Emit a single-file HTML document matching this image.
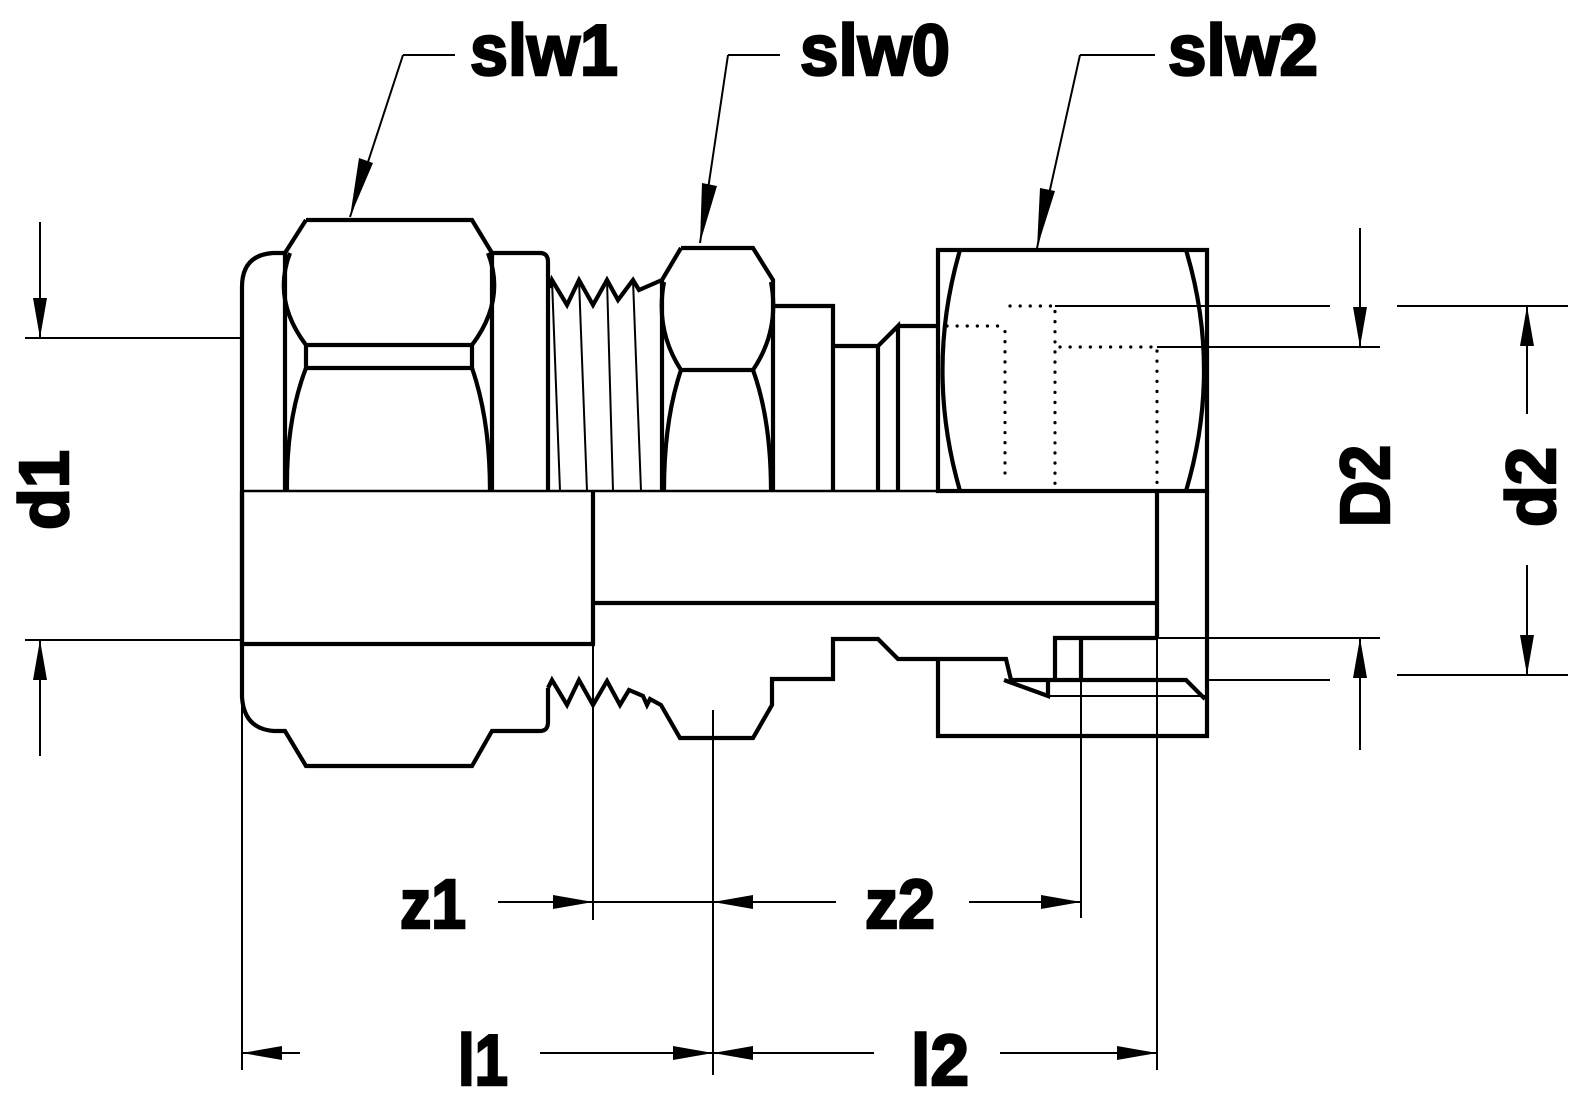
<!DOCTYPE html>
<html><head><meta charset="utf-8"><style>html,body{margin:0;padding:0;background:#fff}svg{display:block}</style></head>
<body>
<svg width="1580" height="1113" viewBox="0 0 1580 1113" xmlns="http://www.w3.org/2000/svg">
<defs>
<marker id="a" viewBox="0 0 40 14" refX="40" refY="7" markerWidth="40" markerHeight="14" markerUnits="userSpaceOnUse" orient="auto"><path d="M0,0 L40,7 L0,14 z" fill="#000"/></marker>
</defs>
<g fill="none" stroke="#000" stroke-width="4.2" stroke-linejoin="miter">
<!-- nut 1 -->
<path d="M306,220 L472,220 L492,253 L492,491 M306,220 L285,253 L285,491"/>
<path d="M290,253 Q272,300 306,345 L472,345 Q506,300 488,253"/>
<path d="M306,345 L306,368 L472,368 L472,345"/>
<path d="M306,368 Q286,420 287,491 M472,368 Q490,420 490,491"/>
<path d="M285,253 L273,253 Q242,255 242,287 L242,697 Q244,729 274,731 L285,731 L306,766 L472,766 L492,731 L540,731 Q548,731 548,722 L548,688"/>
<path d="M492,253 L540,253 Q548,253 548,262 L548,491"/>
<path d="M550,288 L552,280 L567,305 L579,280 L593,305 L607,280 L618,300 L633,280 L639,290 L662,280"/>
<path d="M548,688 L552,680 L567,705 L579,680 L593,705 L607,681 L620,705 L629,690 L643,696 L647,705 L650,699 L661,705 L680,738 L753,738 L772,705 L772,679 L833,679 L833,639 L878,639 L898,659 L1006,659 L1011,680 L1186,680 L1205,699"/>
<!-- hex 0 -->
<path d="M662,280 L662,491 M681,248 L753,248 L773,280 L773,491 M681,248 L662,280"/>
<path d="M664,282 Q655,330 681,370 L753,370 Q780,330 771,282"/>
<path d="M681,370 Q664,420 664,491 M753,370 Q771,420 771,491"/>
<path d="M773,306 L833,306 L833,491 M833,346 L878,346 L878,491 M878,346 L898,326 L898,491 M898,326 L938,326"/>
<!-- right body -->
<rect x="938" y="250" width="269" height="241"/>
<path d="M960,250 Q925,370 960,491 M1186,250 Q1222,370 1186,491"/>
<path d="M938,659 L938,736 L1207,736 L1207,491"/>
<path d="M1004,680 L1048,696 L1048,680"/>
<path d="M1055,680 L1055,638 L1157,638 M1081,638 L1081,680"/>
<path d="M242,491 L242,644 L593,644 L593,491 M593,603 L1157,603 M1157,491 L1157,638"/>
</g>
<g fill="none" stroke="#000" stroke-width="2">
<path d="M242,491 L1207,491" stroke-width="2.5"/>
<path d="M552,280 L560,491 M579,280 L587,491 M607,280 L613,491 M633,280 L641,491"/>
<path d="M1048,696 L1205,696"/>
<path d="M1055,306 L1330,306 M1157,347 L1380,347 M1157,638 L1380,638 M1205,680 L1330,680"/>
<path d="M1397,306 L1568,306 M1397,675 L1568,675"/>
<path d="M25,338 L242,338 M25,640 L242,640"/>
<path d="M242,644 L242,1070 M593,644 L593,920 M713,710 L713,1075 M1081,680 L1081,918 M1157,638 L1157,1070"/>
<path d="M403,55 L455,55 M403,55 L350,217"/>
<path d="M728,55 L780,55 M728,55 L700,243"/>
<path d="M1080,55 L1155,55 M1080,55 L1037,248"/>
<path d="M40,222 L40,338" marker-end="url(#a)"/>
<path d="M40,756 L40,640" marker-end="url(#a)"/>
<path d="M1360,228 L1360,347" marker-end="url(#a)"/>
<path d="M1360,750 L1360,638" marker-end="url(#a)"/>
<path d="M1527,414 L1527,306" marker-end="url(#a)"/>
<path d="M1527,565 L1527,675" marker-end="url(#a)"/>
<path d="M498,902 L593,902" marker-end="url(#a)"/>
<path d="M593,902 L713,902"/>
<path d="M836,902 L713,902" marker-end="url(#a)"/>
<path d="M969,902 L1081,902" marker-end="url(#a)"/>
<path d="M300,1053 L242,1053" marker-end="url(#a)"/>
<path d="M540,1053 L713,1053" marker-end="url(#a)"/>
<path d="M874,1053 L713,1053" marker-end="url(#a)"/>
<path d="M1000,1053 L1157,1053" marker-end="url(#a)"/>
</g>
<g fill="#000">
<path d="M350,217 L359,158 L373,163 z"/>
<path d="M700,243 L702,183 L717,186 z"/>
<path d="M1037,248 L1040,188 L1055,191 z"/>
</g>
<g fill="none" stroke="#000" stroke-width="3.2" stroke-dasharray="0.1 10" stroke-linecap="round">
<path d="M947,326 L998,326 L1005,330 L1005,483"/>
<path d="M1010,306 L1055,306 L1055,488"/>
<path d="M1060,347 L1157,347 L1157,488"/>
</g>
<g font-family="'Liberation Sans Narrow','Liberation Sans',sans-serif" font-weight="bold" fill="#000" stroke="#000" stroke-width="2.5">
<text x="470" y="75" font-size="72" textLength="148" lengthAdjust="spacingAndGlyphs">slw1</text>
<text x="800" y="75" font-size="72" textLength="150" lengthAdjust="spacingAndGlyphs">slw0</text>
<text x="1168" y="75" font-size="72" textLength="150" lengthAdjust="spacingAndGlyphs">slw2</text>
<text x="400" y="928" font-size="70" textLength="66" lengthAdjust="spacingAndGlyphs">z1</text>
<text x="865" y="928" font-size="70" textLength="70" lengthAdjust="spacingAndGlyphs">z2</text>
<text x="458" y="1085" font-size="72" textLength="50" lengthAdjust="spacingAndGlyphs">l1</text>
<text x="911" y="1085" font-size="72" textLength="58" lengthAdjust="spacingAndGlyphs">l2</text>
<text transform="translate(68,530) rotate(-90)" font-size="70" textLength="80" lengthAdjust="spacingAndGlyphs">d1</text>
<text transform="translate(1389,527) rotate(-90)" font-size="70" textLength="82" lengthAdjust="spacingAndGlyphs">D2</text>
<text transform="translate(1555,527) rotate(-90)" font-size="70" textLength="80" lengthAdjust="spacingAndGlyphs">d2</text>
</g>
</svg>
</body></html>
